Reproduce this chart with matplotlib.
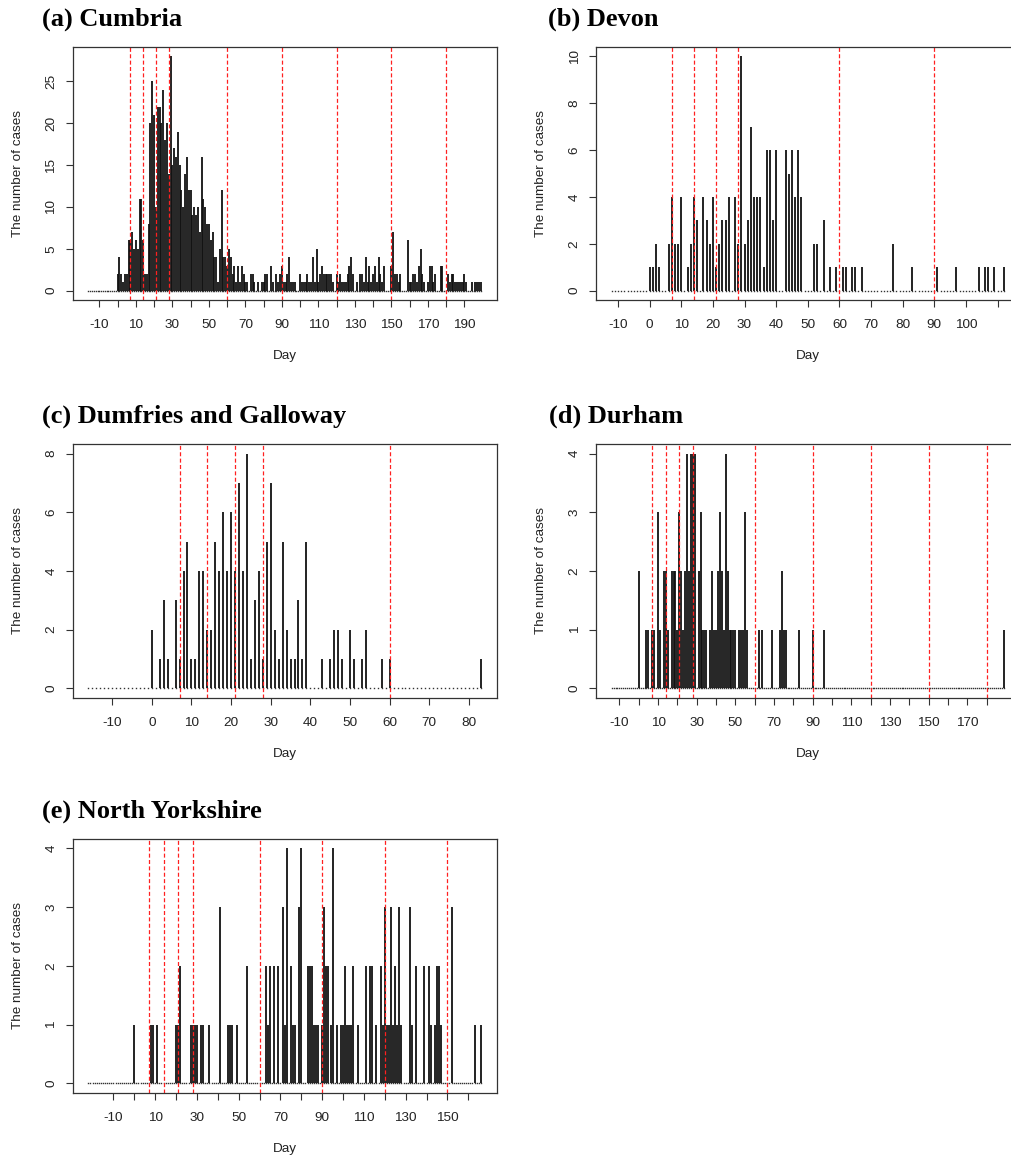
"""Daily case counts for five regions (type='h' style panels)."""
import numpy as np
import matplotlib
matplotlib.use("Agg")
import matplotlib.pyplot as plt

# ---------- data: counts per day, starting at *_start ----------
cumbria_start = -16
cumbria_cases = (
    [0] * 16 +
    [2, 4, 2, 1, 2, 2, 6, 6, 7, 5,
     6, 5, 11, 11, 6, 2, 2, 8, 20, 25,
     21, 10, 22, 22, 20, 24, 18, 20, 14, 28,
     15, 17, 16, 19, 15, 12, 10, 14, 16, 12,
     12, 9, 10, 9, 10, 7, 16, 11, 10, 8,
     8, 6, 7, 4, 4, 1, 5, 12, 4, 4,
     3, 5, 4, 2, 3, 1, 3, 1, 3, 2,
     1, 1, 0, 2, 2, 1, 0, 1, 0, 1,
     1, 2, 2, 0, 3, 1, 0, 2, 1, 2,
     3, 1, 1, 2, 4, 1, 1, 1, 0, 0,
     2, 1, 1, 1, 2, 1, 1, 4, 1, 5,
     1, 2, 3, 2, 2, 2, 2, 2, 1, 0,
     2, 1, 2, 1, 1, 1, 2, 3, 4, 2,
     0, 1, 0, 2, 2, 1, 4, 1, 3, 1,
     2, 3, 1, 4, 2, 1, 3, 0, 0, 0,
     3, 7, 2, 2, 1, 2, 0, 0, 0, 6,
     1, 1, 2, 2, 1, 3, 5, 2, 1, 0,
     1, 3, 3, 1, 2, 0, 0, 3, 3, 0,
     0, 2, 1, 2, 2, 1, 1, 1, 1, 1,
     2, 1, 0, 0, 1, 0, 1, 1, 1, 1]
)

devon_start = -12
devon_cases = (
    [0] * 12 +
    [1, 1, 2, 1, 0, 0, 2, 4, 2, 2,
     4, 0, 1, 2, 4, 3, 0, 4, 3, 2,
     4, 1, 2, 3, 3, 4, 0, 4, 2, 10,
     2, 3, 7, 4, 4, 4, 1, 6, 6, 3,
     6, 0, 0, 6, 5, 6, 4, 6, 4, 0,
     0, 0, 2, 2, 0, 3, 0, 1, 0, 1,
     0, 1, 1, 0, 1, 1, 0, 1, 0, 0,
     0, 0, 0, 0, 0, 0, 0, 2, 0, 0,
     0, 0, 0, 1, 0, 0, 0, 0, 0, 0,
     0, 1, 0, 0, 0, 0, 0, 1, 0, 0,
     0, 0, 0, 0, 1, 0, 1, 1, 0, 1,
     0, 0, 1]
)

dumfries_start = -16
dumfries_cases = (
    [0] * 16 +
    [2, 0, 1, 3, 1, 0, 3, 1, 4, 5,
     1, 1, 4, 4, 2, 2, 5, 4, 6, 4,
     6, 4, 7, 4, 8, 1, 3, 4, 1, 5,
     7, 2, 1, 5, 2, 1, 1, 3, 1, 5,
     0, 0, 0, 1, 0, 1, 2, 2, 1, 0,
     2, 1, 0, 1, 2, 0, 0, 0, 1, 0,
     1, 0, 0, 0, 0, 0, 0, 0, 0, 0,
     0, 0, 0, 0, 0, 0, 0, 0, 0, 0,
     0, 0, 0, 1]
)

durham_start = -14
durham_cases = (
    [0] * 14 +
    [2, 0, 0, 0, 1, 1, 0, 1, 1, 0,
     3, 1, 0, 2, 2, 1, 0, 2, 2, 2,
     1, 3, 2, 1, 2, 4, 2, 4, 4, 4,
     0, 2, 3, 1, 1, 1, 0, 1, 2, 1,
     1, 2, 3, 2, 1, 4, 2, 1, 1, 1,
     1, 0, 1, 1, 1, 3, 1, 0, 0, 0,
     0, 0, 1, 0, 1, 0, 0, 0, 0, 1,
     0, 0, 0, 1, 2, 1, 1, 0, 0, 0,
     0, 0, 0, 1, 0, 0, 0, 0, 0, 0,
     1, 0, 0, 0, 0, 0, 1] +
    [0] * 92 + [1]
)

nyorks_start = -22
nyorks_cases = (
    [0] * 22 +
    [1, 0, 0, 0, 0, 0, 0, 0, 1, 1,
     0, 1, 0, 0, 0, 0, 0, 0, 0, 0,
     1, 1, 2, 0, 0, 0, 0, 1, 1, 1,
     1, 0, 1, 1, 0, 0, 1, 0, 0, 0,
     0, 3, 0, 0, 0, 1, 1, 1, 0, 1,
     0, 0, 0, 0, 2, 0, 0, 0, 0, 0,
     0, 0, 0, 2, 1, 2, 0, 2, 0, 2,
     0, 3, 1, 4, 0, 2, 1, 1, 0, 3,
     4, 0, 0, 2, 2, 2, 1, 1, 1, 0,
     1, 3, 2, 2, 1, 4, 0, 1, 0, 1,
     1, 2, 1, 1, 1, 2, 0, 1, 0, 0,
     0, 2, 0, 2, 2, 0, 1, 0, 2, 1,
     3, 1, 1, 3, 1, 2, 1, 3, 1, 0,
     0, 0, 3, 1, 0, 2, 0, 0, 0, 2,
     0, 2, 1, 0, 1, 2, 2, 1, 0, 0,
     0, 0, 3, 0, 0, 0, 0, 0, 0, 0,
     0, 0, 0, 1, 0, 0, 1]
)

titles = ["(a) Cumbria", "(b) Devon", "(c) Dumfries and Galloway",
          "(d) Durham", "(e) North Yorkshire"]
starts = [cumbria_start, devon_start, dumfries_start, durham_start, nyorks_start]
series = [cumbria_cases, devon_cases, dumfries_cases, durham_cases, nyorks_cases]
red_days = [[7, 14, 21, 28, 60, 90, 120, 150, 180],
            [7, 14, 21, 28, 60, 90],
            [7, 14, 21, 28, 60],
            [7, 14, 21, 28, 60, 90, 120, 150, 180],
            [7, 14, 21, 28, 60, 90, 120, 150]]
y_ticks = [[0, 5, 10, 15, 20, 25], [0, 2, 4, 6, 8, 10], [0, 2, 4, 6, 8],
           [0, 1, 2, 3, 4], [0, 1, 2, 3, 4]]
label_every = [2, 1, 1, 2, 2]
hidden_labels = [[], [110], [], [], []]

# ---------- layout (pixels of the 1011x1155 picture) ----------
W, H = 1011, 1155
col_x = [(72.7, 496.5), (596.0, 1019.6)]
row_y = [(47.0, 300.0), (444.3, 697.7), (839.0, 1092.7)]
title_x = [42, 548, 42, 549, 42]
title_dy = 28          # title centre above axes top
ylab_dx = 54.7         # ylabel centre left of axes
xlab_dy = 56           # "Day" centre below axes bottom

SANS = ["Liberation Sans", "DejaVu Sans"]
SERIF = ["Liberation Serif", "DejaVu Serif"]
TXT = "#222222"

fig = plt.figure(figsize=(W / 100, H / 100), dpi=100)

for i in range(5):
    r, c = divmod(i, 2)
    x0, x1 = col_x[c]
    y0, y1 = row_y[r]
    ax = fig.add_axes([x0 / W, 1 - y1 / H, (x1 - x0) / W, (y1 - y0) / H])

    counts = np.array(series[i])
    days = np.arange(starts[i], starts[i] + len(counts))
    nz = counts > 0

    ax.plot(days, np.zeros(len(days)), ls="none", marker="s", ms=1.0,
            mew=0, color="#333333")
    ax.vlines(days[nz], 0, counts[nz], color="#111111", lw=1.3)
    for d in red_days[i]:
        ax.axvline(d, color="#ff2020", lw=0.9, ls=(0, (3.2, 1.9)))

    # R-style 4% padding
    dpad = 0.04 * (days[-1] - days[0])
    ax.set_xlim(days[0] - dpad, days[-1] + dpad)
    ypad = 0.04 * counts.max()
    ax.set_ylim(-ypad, counts.max() + ypad)

    xt = np.arange(-10, days[-1] + 1, 10)
    ax.set_xticks(xt)
    ax.set_xticklabels([str(t) if (k % label_every[i] == 0 and t not in hidden_labels[i])
                        else "" for k, t in enumerate(xt)])
    ax.set_yticks(y_ticks[i])
    ax.set_yticklabels([str(t) for t in y_ticks[i]], rotation=90, va="center")

    ax.tick_params(axis="x", length=5, width=0.8, pad=9, colors="#333333",
                   labelsize=9.7, labelcolor=TXT)
    ax.tick_params(axis="y", length=5, width=0.8, pad=6, colors="#333333",
                   labelsize=9.7, labelcolor=TXT)
    for lab in ax.get_xticklabels() + ax.get_yticklabels():
        lab.set_family(SANS)
    for sp in ax.spines.values():
        sp.set_color("#333333")
        sp.set_linewidth(0.9)

    fig.text(title_x[i] / W, 1 - (y0 - title_dy) / H, titles[i], fontsize=19,
             fontweight="bold", family=SERIF, ha="left", va="center", color="black")
    fig.text((x0 - ylab_dx) / W, 1 - (y0 + y1) / 2 / H, "The number of cases",
             rotation=90, ha="center", va="center", fontsize=9.7, family=SANS, color=TXT)
    fig.text((x0 + x1) / 2 / W, 1 - (y1 + xlab_dy) / H, "Day", ha="center",
             va="center", fontsize=9.7, family=SANS, color=TXT)

plt.savefig("out.png", dpi=100)
